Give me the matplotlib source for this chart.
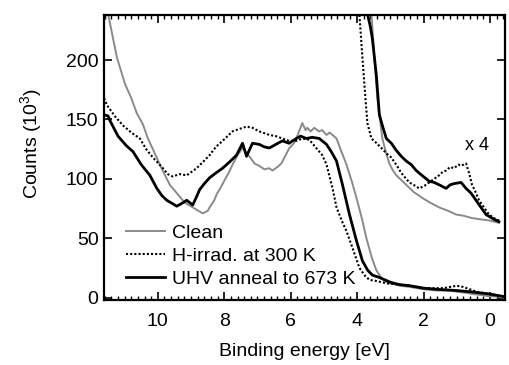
import matplotlib.pyplot as plt
import numpy as np

plt.rcParams['font.family'] = ['Liberation Sans', 'DejaVu Sans']
plt.rcParams['mathtext.default'] = 'regular'

# Clean (grey)
clean_e = [11.65, 11.50, 11.23, 10.99, 10.80, 10.63, 10.45, 10.30, 10.10, 9.94, 9.80, 9.64,
           9.40, 9.19, 8.95, 8.65, 8.50, 8.44, 8.30, 8.23, 8.10, 7.99, 7.85, 7.75, 7.60, 7.45,
           7.30, 7.09, 6.95, 6.79, 6.65, 6.55, 6.40, 6.28, 6.15, 6.04, 5.90, 5.83, 5.72, 5.65,
           5.55, 5.50, 5.40, 5.29, 5.15, 5.05, 4.92, 4.83, 4.70, 4.62, 4.50, 4.32, 4.15, 4.02,
           3.85, 3.72, 3.55, 3.42, 3.28, 3.18, 3.00, 2.70, 2.40, 2.00, 1.60, 1.20, 1.00, 0.70,
           0.50, 0.20, 0.00, -0.20, -0.40]
clean_c = [262, 239, 202, 180, 168, 155, 146, 134, 122, 112, 104, 95,
           87, 80, 76, 71, 73, 76, 82, 87, 93, 99, 106, 112, 120, 126,
           121, 113, 111, 108, 109, 107, 110, 113, 120, 126, 130, 134, 142, 147,
           141, 143, 140, 143, 140, 141, 137, 139, 136, 134, 125, 112, 97, 84,
           66, 50, 33, 23, 17, 14, 12, 10, 9, 7, 6, 6, 5, 4,
           3, 2, 1, 1, 0]

# H-irrad. at 300 K (dotted)
hirr_e = [11.62, 11.53, 11.30, 11.05, 10.80, 10.54, 10.35, 10.15, 9.98, 9.85, 9.70, 9.55,
          9.35, 9.13, 8.98, 8.83, 8.65, 8.44, 8.25, 8.05, 7.90, 7.75, 7.55, 7.33, 7.15,
          6.95, 6.64, 6.45, 6.25, 6.05, 5.83, 5.65, 5.44, 5.23, 5.05, 4.92, 4.74, 4.62,
          4.45, 4.32, 4.14, 3.93, 3.75, 3.63, 3.42, 3.10, 2.73, 2.40, 2.00, 1.70, 1.40,
          1.20, 1.00, 0.80, 0.60, 0.40, 0.20, 0.00, -0.20, -0.40]
hirr_c = [168, 162, 153, 145, 139, 134, 125, 118, 113, 109, 104, 102,
          104, 103, 106, 109, 114, 120, 127, 132, 136, 140, 142, 144, 143,
          140, 137, 136, 134, 132, 132, 134, 133, 126, 120, 112, 92, 76,
          64, 56, 42, 25, 18, 15, 14, 12, 11, 10, 8, 8, 8,
          9, 10, 9, 7, 5, 4, 3, 2, 1]

# UHV anneal to 673 K (black)
uhv_e = [11.62, 11.50, 11.44, 11.20, 10.95, 10.75, 10.50, 10.24, 10.03, 9.88, 9.73, 9.55,
         9.43, 9.30, 9.13, 8.95, 8.85, 8.74, 8.60, 8.44, 8.25, 8.05, 7.85, 7.63, 7.45,
         7.33, 7.15, 6.94, 6.80, 6.64, 6.45, 6.25, 6.05, 5.83, 5.70, 5.53, 5.35, 5.14,
         4.92, 4.78, 4.62, 4.44, 4.23, 4.02, 3.84, 3.68, 3.54, 3.33, 3.00, 2.73, 2.40,
         2.00, 1.60, 1.00, 0.60, 0.30, 0.00, -0.20, -0.40]
uhv_c = [154, 153, 149, 136, 128, 123, 112, 103, 92, 86, 82, 79,
         77, 79, 82, 78, 84, 91, 96, 101, 105, 109, 114, 120, 130,
         119, 130, 129, 127, 126, 129, 132, 130, 134, 136, 134, 135, 134,
         129, 123, 115, 95, 70, 48, 31, 23, 19, 17, 13, 11, 10,
         8, 7, 6, 5, 4, 3, 2, 1]

# x4 magnified tails
hirr4_e = [3.93, 3.84, 3.75, 3.69, 3.57, 3.45, 3.27, 3.10, 2.97, 2.80, 2.67, 2.55, 2.43,
           2.30, 2.13, 1.98, 1.83, 1.68, 1.53, 1.42, 1.32, 1.20, 1.08, 0.95, 0.87, 0.72,
           0.63, 0.54, 0.45, 0.33, 0.18, 0.03, -0.12, -0.27]
hirr4_c = [238, 202, 168, 147, 134, 131, 126, 121, 118, 111, 105, 101, 97,
           95, 92, 94, 97, 100, 103, 106, 107, 110, 109, 112, 111, 113,
           105, 95, 90, 82, 76, 70, 67, 65]

uhv4_e = [3.69, 3.60, 3.54, 3.42, 3.33, 3.22, 3.12, 2.97, 2.82, 2.67, 2.52, 2.37, 2.22,
          2.05, 1.83, 1.68, 1.53, 1.32, 1.20, 1.08, 0.87, 0.72, 0.57, 0.42, 0.27, 0.12,
          -0.12, -0.27]
uhv4_c = [239, 228, 218, 187, 154, 143, 134, 130, 124, 119, 115, 112, 107,
          103, 98, 97, 95, 92, 95, 96, 97, 92, 88, 82, 76, 70,
          66, 64]

clean4_e = [3.57, 3.48, 3.39, 3.24, 3.12, 3.03, 2.92, 2.82, 2.67, 2.52, 2.30, 2.04,
            1.80, 1.53, 1.25, 1.02, 0.80, 0.54, 0.30, 0.03, -0.27]
clean4_c = [239, 202, 168, 134, 121, 113, 107, 103, 99, 95, 89, 84,
            80, 76, 73, 70, 69, 67, 66, 65, 63]

fs = 14

fig = plt.figure(figsize=(5.1, 3.65), dpi=100)
ax = fig.add_axes([0.204, 0.178, 0.786, 0.781])

ax.plot(clean_e, clean_c, color='#8a8a8a', lw=1.4, label='Clean')
ax.plot(hirr_e, hirr_c, color='black', lw=1.5, ls=(0, (1, 1)), label='H-irrad. at 300 K')
ax.plot(uhv_e, uhv_c, color='black', lw=2.0, label='UHV anneal to 673 K')
ax.plot(clean4_e, clean4_c, color='#8a8a8a', lw=1.4)
ax.plot(hirr4_e, hirr4_c, color='black', lw=1.5, ls=(0, (1, 1)))
ax.plot(uhv4_e, uhv4_c, color='black', lw=2.0)

ax.text(0.75, 128, 'x 4', fontsize=fs - 1, ha='left', va='center')

ax.set_xlim(11.62, -0.45)
ax.set_ylim(-2, 238)
ax.set_xticks([10, 8, 6, 4, 2, 0])
ax.set_xticks(np.arange(-0.4, 11.7, 0.2), minor=True)
ax.set_yticks([0, 50, 100, 150, 200])
ax.tick_params(axis='both', which='major', direction='in', length=6, width=1.2,
               top=True, right=True, labelsize=fs)
ax.tick_params(axis='x', which='major', pad=9)
ax.tick_params(axis='y', which='major', pad=4)
ax.tick_params(axis='x', which='minor', direction='in', length=3, width=1,
               top=True, bottom=True)
for s in ax.spines.values():
    s.set_linewidth(1.6)

ax.set_xlabel('Binding energy [eV]', fontsize=fs, labelpad=10)
ax.set_ylabel('Counts (10$^{3}$)', fontsize=fs)
ax.yaxis.set_label_coords(-0.15, 0.55)

ax.legend(loc='lower left', bbox_to_anchor=(0.02, -0.005), frameon=False, fontsize=fs,
          handlelength=2.0, handletextpad=0.4, labelspacing=0.28, borderpad=0.2)

fig.savefig('out.png', dpi=100)
